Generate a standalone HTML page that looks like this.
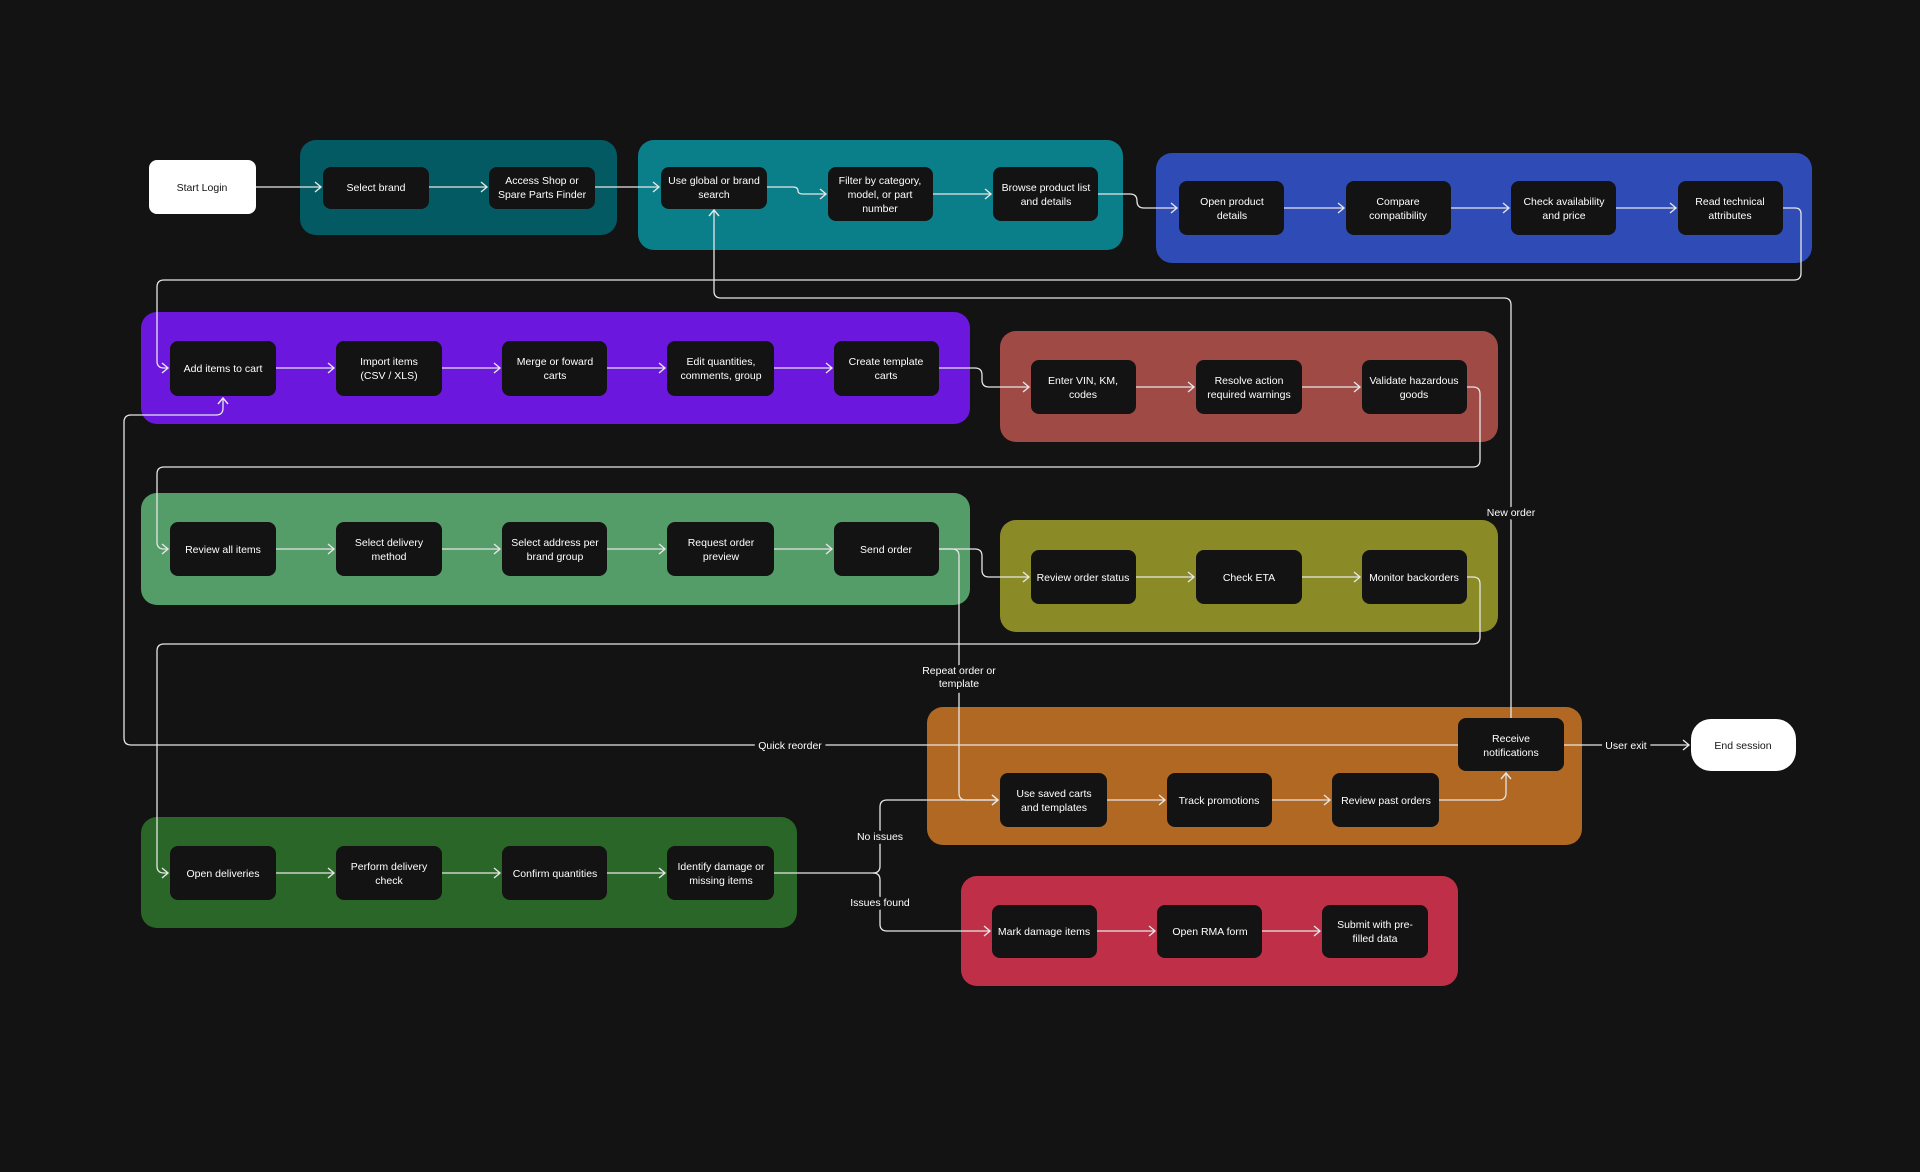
<!DOCTYPE html>
<html><head><meta charset="utf-8"><style>
html,body{margin:0;padding:0;background:#131313;}
svg{display:block;}
text{font-family:"Liberation Sans",sans-serif;font-size:10.5px;fill:#fff;text-anchor:middle;}
.n{fill:#131313;}
.c{fill:none;stroke:#e6e6e6;stroke-width:1.3;marker-end:url(#a);}
.p{fill:none;stroke:#e6e6e6;stroke-width:1.3;}
.l{paint-order:stroke;stroke:#131313;stroke-width:8px;stroke-linejoin:round;}
</style></head><body>
<svg width="1920" height="1172" viewBox="0 0 1920 1172" xmlns="http://www.w3.org/2000/svg">
<defs><marker id="a" markerUnits="userSpaceOnUse" markerWidth="10" markerHeight="12" refX="7" refY="6" orient="auto"><path d="M1,1 L7,6 L1,11" fill="none" stroke="#e6e6e6" stroke-width="1.4"/></marker></defs>
<rect width="1920" height="1172" fill="#131313"/>
<!-- groups -->
<rect x="300" y="140" width="317" height="95" rx="16" fill="#035a63"/>
<rect x="638" y="140" width="485" height="110" rx="16" fill="#0a7f8a"/>
<rect x="1156" y="153" width="656" height="110" rx="16" fill="#2f4bb5"/>
<rect x="141" y="312" width="829" height="112" rx="16" fill="#6c17de"/>
<rect x="1000" y="331" width="498" height="111" rx="16" fill="#a04a45"/>
<rect x="141" y="493" width="829" height="112" rx="16" fill="#559d68"/>
<rect x="1000" y="520" width="498" height="112" rx="16" fill="#8a8b27"/>
<rect x="927" y="707" width="655" height="138" rx="16" fill="#b06823"/>
<rect x="141" y="817" width="656" height="111" rx="16" fill="#2a6628"/>
<rect x="961" y="876" width="497" height="110" rx="16" fill="#c02f48"/>
<!-- connectors -->
<path class="c" d="M256 187 H321"/>
<path class="c" d="M429 187 H487"/>
<path class="c" d="M595 187 H659"/>
<path class="c" d="M767 187 H793 Q798 187 798 191 Q798 194 803 194 H826"/>
<path class="c" d="M933 194 H991"/>
<path class="c" d="M1098 194 H1130 Q1137 194 1137 201 Q1137 208 1144 208 H1177"/>
<path class="c" d="M1284 208 H1344"/>
<path class="c" d="M1451 208 H1509"/>
<path class="c" d="M1616 208 H1676"/>
<path class="c" d="M1783 208 H1795 Q1801 208 1801 214 V273 Q1801 280 1794 280 H164 Q157 280 157 287 V361 Q157 368 164 368 H168"/>
<path class="c" d="M1511 718 V305 Q1511 298 1504 298 H721 Q714 298 714 291 V210"/>
<path class="c" d="M276 368 H334"/><path class="c" d="M442 368 H500"/><path class="c" d="M607 368 H665"/><path class="c" d="M774 368 H832"/>
<path class="c" d="M939 368 H975 Q982 368 982 375 V380 Q982 387 989 387 H1029"/>
<path class="c" d="M1136 387 H1194"/><path class="c" d="M1302 387 H1360"/>
<path class="c" d="M1467 387 H1473 Q1480 387 1480 394 V460 Q1480 467 1473 467 H164 Q157 467 157 474 V542 Q157 549 164 549 H168"/>
<path class="c" d="M276 549 H334"/><path class="c" d="M442 549 H500"/><path class="c" d="M607 549 H665"/><path class="c" d="M774 549 H832"/>
<path class="c" d="M939 549 H975 Q982 549 982 556 V570 Q982 577 989 577 H1029"/>
<path class="c" d="M939 549 H952 Q959 549 959 556 V793 Q959 800 966 800 H998"/>
<path class="c" d="M1136 577 H1194"/><path class="c" d="M1302 577 H1360"/>
<path class="c" d="M1467 577 H1473 Q1480 577 1480 584 V637 Q1480 644 1473 644 H164 Q157 644 157 651 V866 Q157 873 164 873 H168"/>
<path class="c" d="M1458 745 H131 Q124 745 124 738 V422 Q124 415 131 415 H216 Q223 415 223 408 V398"/>
<path class="c" d="M1564 745 H1689"/>
<path class="c" d="M1107 800 H1165"/><path class="c" d="M1272 800 H1330"/>
<path class="c" d="M1439 800 H1499 Q1506 800 1506 793 V773"/>
<path class="c" d="M276 873 H334"/><path class="c" d="M442 873 H500"/><path class="c" d="M607 873 H665"/>
<path class="c" d="M774 873 H873 Q880 873 880 866 V807 Q880 800 887 800 H998"/>
<path class="c" d="M873 873 Q880 873 880 880 V924 Q880 931 887 931 H990"/>
<path class="c" d="M1097 931 H1155"/><path class="c" d="M1262 931 H1320"/>
<!-- labels -->
<text class="l" x="1511" y="516">New order</text>
<text class="l" x="959" y="674">Repeat order or</text>
<text class="l" x="959" y="687">template</text>
<text class="l" x="790" y="749">Quick reorder</text>
<text class="l" x="1626" y="749">User exit</text>
<text class="l" x="880" y="840">No issues</text>
<text class="l" x="880" y="906">Issues found</text>
<!-- nodes -->
<rect x="149" y="160" width="107" height="54" rx="8" fill="#fff"/>
<text x="202" y="191" style="fill:#131313">Start Login</text>
<rect x="1691" y="719" width="105" height="52" rx="20" fill="#fff"/>
<text x="1743" y="749" style="fill:#131313">End session</text>

<rect class="n" x="323" y="167" width="106" height="42" rx="8"/><text x="376" y="191">Select brand</text>
<rect class="n" x="489" y="167" width="106" height="42" rx="8"/><text x="542" y="184">Access Shop or</text><text x="542" y="198">Spare Parts Finder</text>
<rect class="n" x="661" y="167" width="106" height="42" rx="8"/><text x="714" y="184">Use global or brand</text><text x="714" y="198">search</text>
<rect class="n" x="828" y="167" width="105" height="54" rx="8"/><text x="880" y="184">Filter by category,</text><text x="880" y="198">model, or part</text><text x="880" y="212">number</text>
<rect class="n" x="993" y="167" width="105" height="54" rx="8"/><text x="1046" y="191">Browse product list</text><text x="1046" y="205">and details</text>

<rect class="n" x="1179" y="181" width="105" height="54" rx="8"/><text x="1232" y="205">Open product</text><text x="1232" y="219">details</text>
<rect class="n" x="1346" y="181" width="105" height="54" rx="8"/><text x="1398" y="205">Compare</text><text x="1398" y="219">compatibility</text>
<rect class="n" x="1511" y="181" width="105" height="54" rx="8"/><text x="1564" y="205">Check availability</text><text x="1564" y="219">and price</text>
<rect class="n" x="1678" y="181" width="105" height="54" rx="8"/><text x="1730" y="205">Read technical</text><text x="1730" y="219">attributes</text>

<rect class="n" x="170" y="341" width="106" height="55" rx="8"/><text x="223" y="372">Add items to cart</text>
<rect class="n" x="336" y="341" width="106" height="55" rx="8"/><text x="389" y="365">Import items</text><text x="389" y="379">(CSV / XLS)</text>
<rect class="n" x="502" y="341" width="105" height="55" rx="8"/><text x="555" y="365">Merge or foward</text><text x="555" y="379">carts</text>
<rect class="n" x="667" y="341" width="107" height="55" rx="8"/><text x="721" y="365">Edit quantities,</text><text x="721" y="379">comments, group</text>
<rect class="n" x="834" y="341" width="105" height="55" rx="8"/><text x="886" y="365">Create template</text><text x="886" y="379">carts</text>

<rect class="n" x="1031" y="360" width="105" height="54" rx="8"/><text x="1083" y="384">Enter VIN, KM,</text><text x="1083" y="398">codes</text>
<rect class="n" x="1196" y="360" width="106" height="54" rx="8"/><text x="1249" y="384">Resolve action</text><text x="1249" y="398">required warnings</text>
<rect class="n" x="1362" y="360" width="105" height="54" rx="8"/><text x="1414" y="384">Validate hazardous</text><text x="1414" y="398">goods</text>

<rect class="n" x="170" y="522" width="106" height="54" rx="8"/><text x="223" y="553">Review all items</text>
<rect class="n" x="336" y="522" width="106" height="54" rx="8"/><text x="389" y="546">Select delivery</text><text x="389" y="560">method</text>
<rect class="n" x="502" y="522" width="105" height="54" rx="8"/><text x="555" y="546">Select address per</text><text x="555" y="560">brand group</text>
<rect class="n" x="667" y="522" width="107" height="54" rx="8"/><text x="721" y="546">Request order</text><text x="721" y="560">preview</text>
<rect class="n" x="834" y="522" width="105" height="54" rx="8"/><text x="886" y="553">Send order</text>

<rect class="n" x="1031" y="550" width="105" height="54" rx="8"/><text x="1083" y="581">Review order status</text>
<rect class="n" x="1196" y="550" width="106" height="54" rx="8"/><text x="1249" y="581">Check ETA</text>
<rect class="n" x="1362" y="550" width="105" height="54" rx="8"/><text x="1414" y="581">Monitor backorders</text>

<rect class="n" x="1458" y="718" width="106" height="53" rx="8"/><text x="1511" y="742">Receive</text><text x="1511" y="756">notifications</text>
<rect class="n" x="1000" y="773" width="107" height="54" rx="8"/><text x="1054" y="797">Use saved carts</text><text x="1054" y="811">and templates</text>
<rect class="n" x="1167" y="773" width="105" height="54" rx="8"/><text x="1219" y="804">Track promotions</text>
<rect class="n" x="1332" y="773" width="107" height="54" rx="8"/><text x="1386" y="804">Review past orders</text>

<rect class="n" x="170" y="846" width="106" height="54" rx="8"/><text x="223" y="877">Open deliveries</text>
<rect class="n" x="336" y="846" width="106" height="54" rx="8"/><text x="389" y="870">Perform delivery</text><text x="389" y="884">check</text>
<rect class="n" x="502" y="846" width="105" height="54" rx="8"/><text x="555" y="877">Confirm quantities</text>
<rect class="n" x="667" y="846" width="107" height="54" rx="8"/><text x="721" y="870">Identify damage or</text><text x="721" y="884">missing items</text>

<rect class="n" x="992" y="905" width="105" height="53" rx="8"/><text x="1044" y="935">Mark damage items</text>
<rect class="n" x="1157" y="905" width="105" height="53" rx="8"/><text x="1210" y="935">Open RMA form</text>
<rect class="n" x="1322" y="905" width="106" height="53" rx="8"/><text x="1375" y="928">Submit with pre-</text><text x="1375" y="942">filled data</text>
</svg>
</body></html>
